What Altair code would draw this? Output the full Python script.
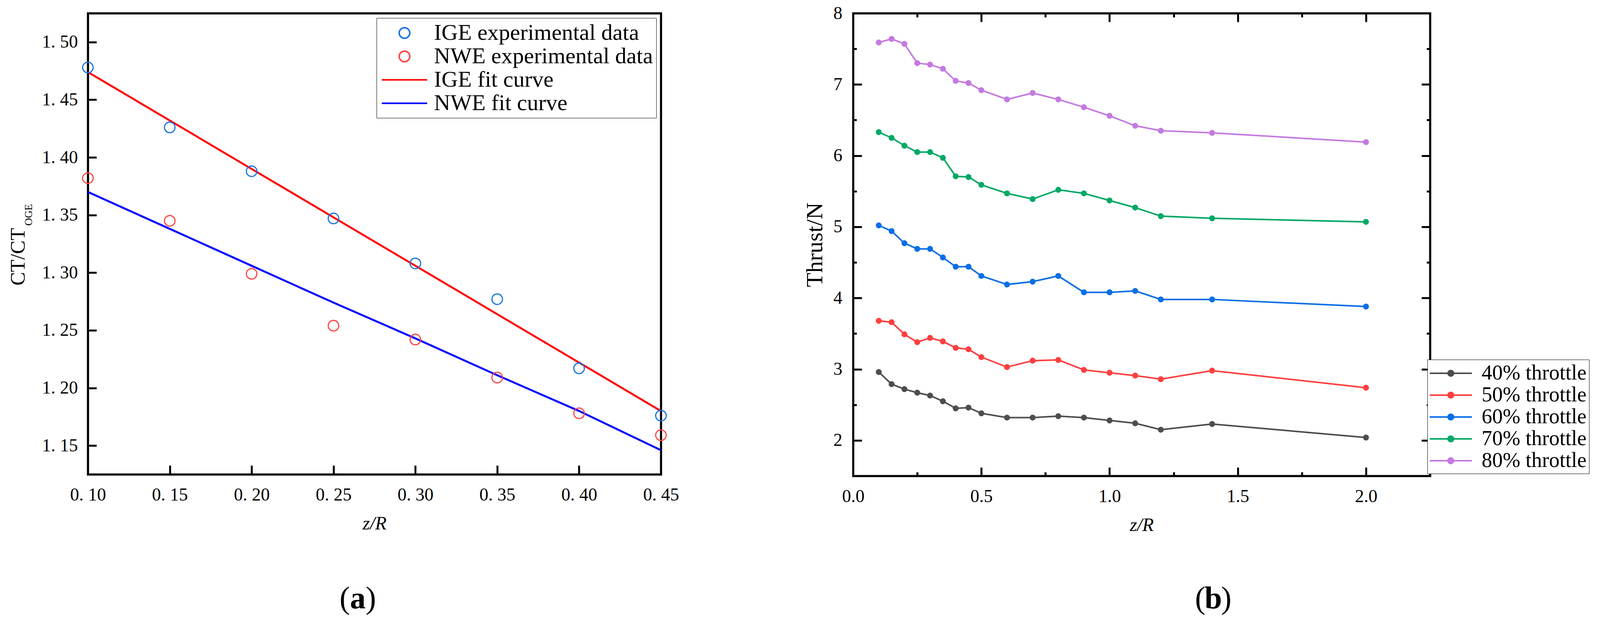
import altair as alt
import pandas as pd

FONT = "Liberation Serif"

# ---- panel (a): thrust ratio in ground / wall effect ----
Z_A = [0.10, 0.15, 0.20, 0.25, 0.30, 0.35, 0.40, 0.45]
IGE_EXP = [1.478, 1.426, 1.388, 1.347, 1.308, 1.277, 1.217, 1.176]
NWE_EXP = [1.382, 1.345, 1.299, 1.254, 1.242, 1.209, 1.178, 1.159]
IGE_FIT = [1.474, 1.432, 1.390, 1.348, 1.306, 1.264, 1.222, 1.180]
NWE_FIT = [1.370, 1.338, 1.306, 1.274, 1.243, 1.211, 1.180, 1.146]
SERIES_A = ["IGE experimental data", "NWE experimental data", "IGE fit curve", "NWE fit curve"]
COLORS_A = ["#1874e0", "#ff4545", "#ff0000", "#0000ff"]
X_TICKS_A = [0.10, 0.15, 0.20, 0.25, 0.30, 0.35, 0.40, 0.45]
Y_TICKS_A = [1.15, 1.20, 1.25, 1.30, 1.35, 1.40, 1.45, 1.50]

# ---- panel (b): thrust vs height for throttle settings ----
Z_B = [0.1, 0.15, 0.2, 0.25, 0.3, 0.35, 0.4, 0.45, 0.5, 0.6, 0.7, 0.8, 0.9, 1.0, 1.1, 1.2, 1.4, 2.0]
T40 = [2.96, 2.79, 2.72, 2.67, 2.63, 2.55, 2.45, 2.46, 2.38, 2.32, 2.32, 2.34, 2.32, 2.28, 2.24, 2.15, 2.23, 2.04]
T50 = [3.68, 3.66, 3.49, 3.38, 3.44, 3.39, 3.30, 3.28, 3.17, 3.03, 3.12, 3.13, 2.99, 2.95, 2.91, 2.86, 2.98, 2.74]
T60 = [5.02, 4.94, 4.77, 4.69, 4.69, 4.57, 4.44, 4.44, 4.31, 4.19, 4.23, 4.31, 4.08, 4.08, 4.10, 3.98, 3.98, 3.88]
T70 = [6.33, 6.25, 6.14, 6.05, 6.05, 5.97, 5.71, 5.70, 5.59, 5.47, 5.39, 5.52, 5.47, 5.37, 5.27, 5.15, 5.12, 5.07]
T80 = [7.59, 7.64, 7.57, 7.30, 7.28, 7.22, 7.05, 7.02, 6.92, 6.79, 6.88, 6.79, 6.68, 6.56, 6.42, 6.35, 6.32, 6.19]
SERIES_B = ["40% throttle", "50% throttle", "60% throttle", "70% throttle", "80% throttle"]
COLORS_B = ["#4d4d4d", "#fe3f3f", "#0a6ee6", "#00a865", "#c47ae0"]
X_MAJOR_B = [0.0, 0.5, 1.0, 1.5, 2.0]
X_MINOR_B = [0.25, 0.75, 1.25, 1.75]
Y_MAJOR_B = [2, 3, 4, 5, 6, 7, 8]
Y_MINOR_B = [2.5, 3.5, 4.5, 5.5, 6.5, 7.5]

PANEL_LABELS = ["a", "b"]

W_A, H_A = 1467, 1181
W_B, H_B = 1477, 1185

LABEL_A = "replace(format(datum.value, '.2f'), '.', '. ')"


def circle_path(r):
    return f"M{r},0A{r},{r},0,1,1,-{r},0A{r},{r},0,1,1,{r},0Z"


def tick_axis(orient, values, size, **kw):
    # axis pulled inside the frame so its outward ticks point inward
    opts = dict(orient=orient, values=values, offset=-size, tickSize=size, ticks=True,
                tickWidth=5, tickColor="black", domain=False, grid=False, labels=False,
                labelFlush=False, title=None)
    opts.update(kw)
    return alt.Axis(**opts)


def frame_axis(orient):
    return alt.Axis(orient=orient, domain=True, domainWidth=5, domainColor="black",
                    domainCap="square", ticks=False, labels=False, grid=False, title=None)


def text_mark(t, x, y, **kw):
    return alt.Chart(pd.DataFrame({"t": [t]})).mark_text(font=FONT, color="black", **kw).encode(
        x=alt.value(x), y=alt.value(y), text="t:N"
    )


def panel_label(letter, cx, y):
    return [
        text_mark("(", cx - 20, y, align="right", fontSize=80),
        text_mark(letter, cx, y, align="center", fontSize=80, fontWeight="bold"),
        text_mark(")", cx + 20, y, align="left", fontSize=80),
    ]


# ---------- chart (a) ----------
exp_a = pd.DataFrame({
    "z": Z_A * 2,
    "v": IGE_EXP + NWE_EXP,
    "series": [SERIES_A[0]] * len(Z_A) + [SERIES_A[1]] * len(Z_A),
})
fit_a = pd.DataFrame({
    "z": Z_A * 2,
    "v": IGE_FIT + NWE_FIT,
    "series": [SERIES_A[2]] * len(Z_A) + [SERIES_A[3]] * len(Z_A),
})

xs_a = alt.Scale(domain=[0.10, 0.45], nice=False, zero=False)
ys_a = alt.Scale(domain=[1.125, 1.525], nice=False, zero=False)
color_a = alt.Scale(domain=SERIES_A, range=COLORS_A)
# symbol unit = sqrt(3249)/2 = 28.5 px
shape_a = alt.Scale(domain=SERIES_A, range=[circle_path(0.474), circle_path(0.474),
                                            "M-2.035,0H2.035", "M-2.035,0H2.035"])

legend_a = alt.Legend(
    title=None, orient="top-right", offset=12, labelFontSize=58,
    symbolSize=3249, symbolStrokeWidth=4, symbolOffset=33, labelOffset=45,
    strokeColor="black", fillColor="white", padding=8, rowPadding=0,
    labelColor="black", labelLimit=0,
)

lines_a = alt.Chart(fit_a).mark_line(strokeWidth=5).encode(
    x=alt.X("z:Q", scale=xs_a, axis=tick_axis(
        "bottom", X_TICKS_A, 23, labels=True, labelExpr=LABEL_A, labelFontSize=46,
        labelPadding=30, title="z/R", titleFontStyle="italic", titleFontSize=48,
        titleFontWeight="normal", titlePadding=27)),
    y=alt.Y("v:Q", scale=ys_a, axis=tick_axis(
        "left", Y_TICKS_A, 22, labels=True, labelExpr=LABEL_A, labelFontSize=46,
        labelPadding=26)),
    color=alt.Color("series:N", scale=color_a, legend=None),
)
pts_a = alt.Chart(exp_a).mark_point(filled=False, size=3249, strokeWidth=3, opacity=1).encode(
    x=alt.X("z:Q", scale=xs_a, axis=frame_axis("top")),
    y=alt.Y("v:Q", scale=ys_a, axis=frame_axis("right")),
    color=alt.Color("series:N", scale=color_a, legend=legend_a),
    shape=alt.Shape("series:N", scale=shape_a, legend=legend_a),
)
frame_a = alt.Chart(fit_a).mark_line(strokeOpacity=0).encode(
    x=alt.X("z:Q", scale=xs_a, axis=frame_axis("bottom")),
    y=alt.Y("v:Q", scale=ys_a, axis=frame_axis("left")),
    detail="series:N",
)

chart_a = alt.layer(
    lines_a, pts_a, frame_a,
    text_mark("CT/CT", -162, 550, angle=270, align="right", baseline="alphabetic", fontSize=52),
    text_mark("OGE", -143, 544, angle=270, align="left", baseline="alphabetic", fontSize=27),
    *panel_label(PANEL_LABELS[0], 691, 1500),
).resolve_axis(x="independent", y="independent").resolve_legend(
    color="independent", shape="independent"
).properties(width=W_A, height=H_A)

# ---------- chart (b) ----------
df_b = pd.DataFrame({
    "z": Z_B * 5,
    "thrust": T40 + T50 + T60 + T70 + T80,
    "series": [s for s in SERIES_B for _ in Z_B],
})
df_b["marker"] = df_b["series"]

xs_b = alt.Scale(domain=[0, 2.25], nice=False, zero=False)
ys_b = alt.Scale(domain=[1.5, 8], nice=False, zero=False)


def xb(axis):
    return alt.X("z:Q", scale=xs_b, axis=axis)


def yb(axis):
    return alt.Y("thrust:Q", scale=ys_b, axis=axis)


# two overlaid legends (line + dot); symbol unit = sqrt(2916)/2 = 27 px
lines_b = alt.Chart(df_b).mark_line(strokeWidth=4).encode(
    x=xb(tick_axis("bottom", X_MAJOR_B, 22, labels=True, format=".1f", labelFontSize=46,
                   labelPadding=30, title="z/R", titleFontStyle="italic", titleFontSize=48,
                   titleFontWeight="normal", titlePadding=27)),
    y=yb(tick_axis("left", Y_MAJOR_B, 22, labels=True, format="d", labelFontSize=46,
                   labelPadding=28, title="Thrust/N", titleFontSize=60,
                   titleFontWeight="normal", titlePadding=16)),
    stroke=alt.Stroke("series:N", scale=alt.Scale(domain=SERIES_B, range=COLORS_B), legend=alt.Legend(
        title=None, orient="none", legendX=1470, legendY=887, symbolType="M-2,0H2",
        symbolSize=2916, symbolStrokeWidth=4, symbolOffset=25, labelOffset=50,
        labelFontSize=54, strokeColor="black", fillColor="white", padding=6, rowPadding=0,
        labelColor="black", labelLimit=0,
    )),
)
pts_b = alt.Chart(df_b).mark_circle(size=230, opacity=1).encode(
    x=xb(tick_axis("bottom", X_MINOR_B, 10)),
    y=yb(tick_axis("left", Y_MINOR_B, 9)),
    fill=alt.Fill("marker:N", scale=alt.Scale(domain=SERIES_B, range=COLORS_B), legend=alt.Legend(
        title=None, orient="none", legendX=1470, legendY=887, symbolType=circle_path(0.333),
        symbolSize=2916, symbolStrokeWidth=4, symbolStrokeColor="transparent", symbolOffset=25,
        labelFontSize=54, labelExpr="''", padding=6, rowPadding=0,
    )),
)


def frame_b(xaxis, yaxis):
    return alt.Chart(df_b).mark_line(strokeOpacity=0).encode(
        x=xb(xaxis), y=yb(yaxis), detail="series:N"
    )


chart_b = alt.layer(
    lines_b, pts_b,
    frame_b(tick_axis("top", X_MAJOR_B, 22), tick_axis("right", Y_MAJOR_B, 22)),
    frame_b(tick_axis("top", X_MINOR_B, 10), tick_axis("right", Y_MINOR_B, 9)),
    frame_b(frame_axis("bottom"), frame_axis("left")),
    frame_b(frame_axis("top"), frame_axis("right")),
    *panel_label(PANEL_LABELS[1], 922, 1500),
).resolve_axis(x="independent", y="independent").resolve_legend(
    stroke="independent", fill="independent"
).properties(width=W_B, height=H_B)

chart = alt.hconcat(chart_a, chart_b, spacing=312).properties(
    padding={"left": 10, "top": 0, "right": 0, "bottom": 0}
).configure_view(
    stroke="black", strokeWidth=5
).configure_axis(
    labelFont=FONT, titleFont=FONT, labelColor="black", titleColor="black"
).configure_legend(
    labelFont=FONT
).configure_text(font=FONT)

chart.save("out.html", embed_options={"renderer": "svg", "actions": False})
